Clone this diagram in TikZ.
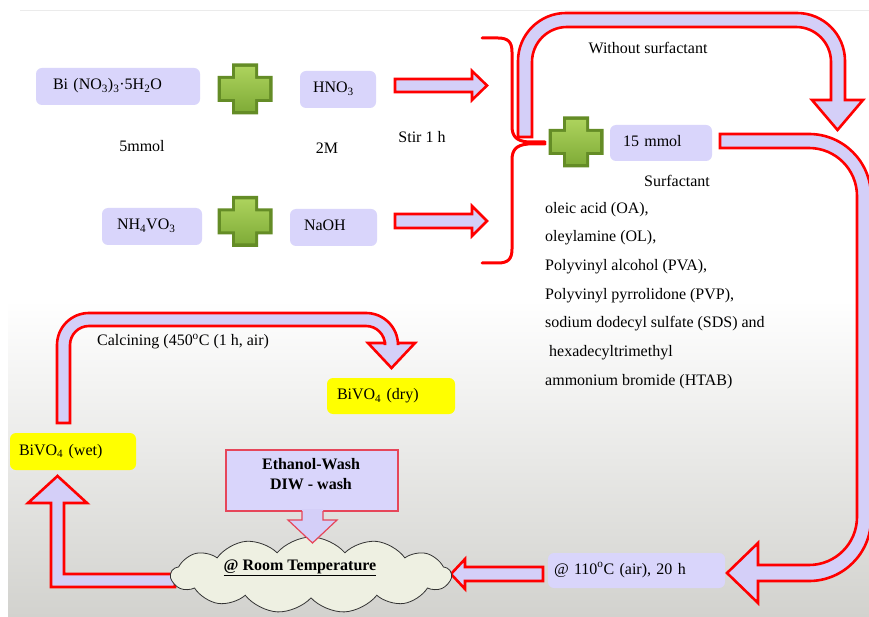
\documentclass[tikz,border=0pt]{standalone}
\usepackage{fontspec}
\setmainfont{Liberation Serif}
\usetikzlibrary{shapes.symbols}
\definecolor{lav}{RGB}{217,213,251}
\definecolor{alav}{RGB}{212,207,248}
\definecolor{bggray}{RGB}{210,210,206}
\definecolor{ylw}{RGB}{255,255,0}
\definecolor{cloudfill}{RGB}{238,240,226}
\definecolor{gdark}{RGB}{100,140,38}
\definecolor{glight}{RGB}{172,210,92}
\definecolor{gmid}{RGB}{128,172,56}
\definecolor{pinkred}{RGB}{230,70,90}
\begin{document}
\begin{tikzpicture}[x=1pt,y=-1pt,
 every node/.style={font=\fontsize{16}{19}\selectfont, inner sep=0pt},
 txt/.style={text height=11pt, text depth=4pt},
 lbox/.style={fill=lav, rounded corners=6pt, minimum height=37pt, align=left, text height=11pt, text depth=4pt},
 ybox/.style={lbox, fill=ylw},
 barrow/.style={fill=alav, draw=red, line width=2.6pt, line join=miter, miter limit=10},
 brace/.style={draw=red, line width=3pt, line cap=round},
 gcross/.style={minimum width=56pt, minimum height=52pt, path picture={
   \fill[gdark, shift={(path picture bounding box.center)}] (-13,-25.5)--(13,-25.5)--(13,-13)--(27.5,-13)--(27.5,13)--(13,13)--(13,25.5)--(-13,25.5)--(-13,13)--(-27.5,13)--(-27.5,-13)--(-13,-13)--cycle;
   \shade[top color=glight, bottom color=gmid, shift={(path picture bounding box.center)}] (-10,-22)--(10,-22)--(10,-10)--(24,-10)--(24,10)--(10,10)--(10,22)--(-10,22)--(-10,10)--(-24,10)--(-24,-10)--(-10,-10)--cycle;
 }}
]
\useasboundingbox (0,0) rectangle (869,617);
% background
\fill[white] (0,0) rectangle (869,617);
\fill[top color=white, bottom color=bggray] (8,300) rectangle (869,617);
\draw[black!8, line width=0.6pt] (20,10) -- (869,10);

% block arrows
\draw[barrow] (395,79) -- (472,79) -- (472,71) -- (487,85.5) -- (472,100) -- (472,92) -- (395,92) -- cycle;
\draw[barrow] (395,214) -- (472,214) -- (472,206) -- (487,221) -- (472,236) -- (472,228) -- (395,228) -- cycle;
\draw[barrow] (518,137) [rounded corners=48pt] -- (518,13) -- (845,13) [sharp corners] -- (845,100) -- (863,100) -- (837.5,130) -- (812,100) -- (831,100) [rounded corners=35pt] -- (831,27) -- (532,27) [sharp corners] -- (532,137) -- cycle;
\draw[barrow] (720,134) [rounded corners=62pt] -- (871,134) -- (871,581) [sharp corners] -- (758,581) -- (758,603) -- (727,573) -- (758,543) -- (758,565) [rounded corners=48pt] -- (857,565) -- (857,148) [sharp corners] -- (720,148) -- cycle;
\draw[barrow] (543,567) -- (465,567) -- (465,559) -- (451,574) -- (465,589) -- (465,581) -- (543,581) -- cycle;
\draw[barrow] (175,574) -- (64,574) -- (64,503) -- (87,503) -- (57.5,476) -- (28,503) -- (51,503) -- (51,587) -- (175,587) -- cycle;
\draw[barrow] (57,423) [rounded corners=32pt] -- (57,313) -- (398,313) [sharp corners] -- (398,343) -- (415,343) -- (391.5,368) -- (368,343) -- (385,343) [rounded corners=19pt] -- (385,326) -- (70,326) [sharp corners] -- (70,423) -- cycle;

% brace
\draw[brace] (482,38) -- (498,38) .. controls (508,38) and (512,42) .. (512,52) -- (512,126) .. controls (512,136) and (516,141) .. (528,142) -- (545,142);
\draw[brace] (545,144) -- (528,144) .. controls (516,145) and (512,150) .. (512,160) -- (512,249) .. controls (512,259) and (508,263) .. (498,263) -- (482,263);

% boxes
\node[lbox, text width=130pt, inner xsep=17pt] (bi) at (118,86.5) {Bi (NO\textsubscript{3})\textsubscript{3}·5H\textsubscript{2}O};
\node[lbox, text width=50pt, inner xsep=13pt] (hno) at (338,89.5) {HNO\textsubscript{3}};
\node[lbox, text width=70pt, inner xsep=15pt] (nh) at (152,226.5) {NH\textsubscript{4}VO\textsubscript{3}};
\node[lbox, text width=59pt, inner xsep=14pt] (naoh) at (333.5,227.5) {NaOH};
\node[lbox, minimum height=36pt, text width=76pt, inner xsep=13pt] (m15) at (661,143) {15 mmol};
\node[lbox, minimum height=35pt, text width=165pt, inner xsep=6pt] (t110) at (636.5,570.5) {@ 110\textsuperscript{o}C (air), 20 h};
\node[ybox, text width=108pt, inner xsep=9pt] (wet) at (73,451.5) {BiVO\textsubscript{4} (wet)};
\node[ybox, minimum height=36pt, text width=108pt, inner xsep=10pt] (dry) at (391,396) {BiVO\textsubscript{4} (dry)};

% crosses
\node[gcross] (c1) at (245,89) {};
\node[gcross] (c2) at (245,221.5) {};
\node[gcross] (c3) at (576,142) {};

% texts
\node[txt] (mmol5) at (142,148) {5mmol};
\node[txt] (m2) at (327,150) {2M};
\node[txt] (stir) at (422,139) {Stir 1 h};
\node[txt] (wo) at (648,50) {Without surfactant};
\node[txt] (surf) at (677,183) {Surfactant};
\node[txt, anchor=west] (s1) at (545,210) {oleic acid (OA),};
\node[txt, anchor=west] (s2) at (545,238.5) {oleylamine (OL),};
\node[txt, anchor=west] (s3) at (545,267) {Polyvinyl alcohol (PVA),};
\node[txt, anchor=west] (s4) at (545,296) {Polyvinyl pyrrolidone (PVP),};
\node[txt, anchor=west] (s5) at (545,324) {sodium dodecyl sulfate (SDS) and};
\node[txt, anchor=west] (s6) at (549,353) {hexadecyltrimethyl};
\node[txt, anchor=west] (s7) at (545,382) {ammonium bromide (HTAB)};
\node[txt, anchor=west] (calc) at (97,342) {Calcining (450\textsuperscript{o}C (1 h, air)};

% cloud
\node[cloud, cloud puffs=13, cloud puff arc=100, cloud ignores aspect, minimum width=280pt, minimum height=76pt, draw=black!80, line width=0.8pt, fill=cloudfill] (cloud) at (311,575) {};
\node[txt] (rt) at (300,567) {\bfseries\underline{@ Room Temperature}};

% ethanol box
\node[draw=pinkred, fill=lav, line width=1.2pt, minimum width=172pt, minimum height=61pt] (eth) at (312,480.5) {};
\node[align=center] (ethtxt) at (311,474) {\textbf{Ethanol-Wash}\\[1pt]\textbf{DIW - wash}};
\fill[alav] (302,509) -- (302,520) -- (288,520) -- (312.5,543) -- (337,520) -- (323,520) -- (323,509) -- cycle;
\draw[pinkred, line width=1.2pt, line join=miter] (302,511) -- (302,520) -- (288,520) -- (312.5,543) -- (337,520) -- (323,520) -- (323,511);
\end{tikzpicture}
\end{document}
